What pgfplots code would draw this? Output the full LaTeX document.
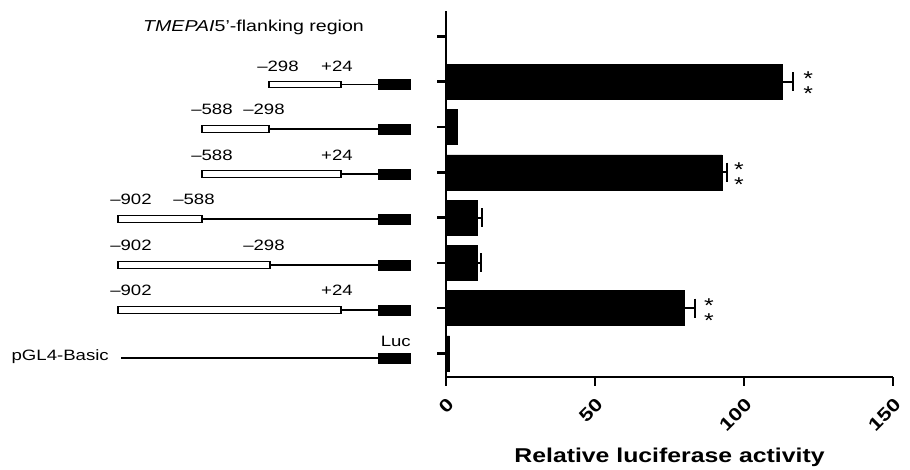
\documentclass[border=0pt]{standalone}
\usepackage{pgfplots}
\pgfplotsset{compat=1.18}
\usepackage{fontspec}
\setmainfont{Liberation Sans}[FakeStretch=1.24]
\begin{document}
\begin{tikzpicture}
\useasboundingbox (0pt,0pt) rectangle (910pt,470pt);
% ---------- schematic of constructs (pixel coordinates, y downward) ----------
\begin{axis}[at={(0pt,0pt)}, anchor=south west, scale only axis,
  width=910pt, height=470pt, xmin=0, xmax=910, ymin=0, ymax=470,
  y dir=reverse, hide axis, clip=false]
% thin lines
\addplot[black, line width=1.5pt] coordinates {(341,84.5) (378,84.5)};
\addplot[black, line width=1.5pt] coordinates {(269,129) (378,129)};
\addplot[black, line width=1.5pt] coordinates {(341,174) (378,174)};
\addplot[black, line width=1.5pt] coordinates {(202,219) (378,219)};
\addplot[black, line width=1.5pt] coordinates {(270,265) (378,265)};
\addplot[black, line width=1.5pt] coordinates {(341,310) (378,310)};
\addplot[black, line width=1.5pt] coordinates {(121,358) (378,358)};
% promoter boxes
\addplot[draw=black, fill=white, line width=1.3pt] coordinates {(269,81.2) (341,81.2) (341,87.8) (269,87.8)} -- cycle;
\addplot[draw=black, fill=white, line width=1.3pt] coordinates {(202,125.7) (269,125.7) (269,132.3) (202,132.3)} -- cycle;
\addplot[draw=black, fill=white, line width=1.3pt] coordinates {(202,170.7) (341,170.7) (341,177.3) (202,177.3)} -- cycle;
\addplot[draw=black, fill=white, line width=1.3pt] coordinates {(118,215.7) (202,215.7) (202,222.3) (118,222.3)} -- cycle;
\addplot[draw=black, fill=white, line width=1.3pt] coordinates {(118,261.7) (270,261.7) (270,268.3) (118,268.3)} -- cycle;
\addplot[draw=black, fill=white, line width=1.3pt] coordinates {(118,306.7) (341,306.7) (341,313.3) (118,313.3)} -- cycle;
% Luc boxes
\addplot[draw=black, fill=black, line width=0.5pt] coordinates {(378,79.5) (410,79.5) (410,89.5) (378,89.5)} -- cycle;
\addplot[draw=black, fill=black, line width=0.5pt] coordinates {(378,124) (410,124) (410,134) (378,134)} -- cycle;
\addplot[draw=black, fill=black, line width=0.5pt] coordinates {(378,169) (410,169) (410,179) (378,179)} -- cycle;
\addplot[draw=black, fill=black, line width=0.5pt] coordinates {(378,214) (410,214) (410,224) (378,224)} -- cycle;
\addplot[draw=black, fill=black, line width=0.5pt] coordinates {(378,260) (410,260) (410,270) (378,270)} -- cycle;
\addplot[draw=black, fill=black, line width=0.5pt] coordinates {(378,305) (410,305) (410,315) (378,315)} -- cycle;
\addplot[draw=black, fill=black, line width=0.5pt] coordinates {(378,353) (410,353) (410,363) (378,363)} -- cycle;
% labels
\begin{scope}[every node/.style={font=\fontsize{15}{15}\selectfont, inner sep=0pt}]
\node at (axis cs:278,66) {–298};
\node at (axis cs:337,66) {+24};
\node at (axis cs:212,109) {–588};
\node at (axis cs:264,109) {–298};
\node at (axis cs:212,155) {–588};
\node at (axis cs:337,155) {+24};
\node at (axis cs:131,199) {–902};
\node at (axis cs:194,199) {–588};
\node at (axis cs:131,245) {–902};
\node at (axis cs:264,245) {–298};
\node at (axis cs:131,290) {–902};
\node at (axis cs:337,290) {+24};
\node[anchor=base east] at (axis cs:109,361) {pGL4-Basic};
\end{scope}
\node[anchor=base east, inner sep=0pt, font=\fontsize{15}{15}\selectfont] at (axis cs:411,347) {Luc};
\node[anchor=base west, inner sep=0pt, font=\fontsize{15.8}{15.8}\selectfont] at (axis cs:143,32) {\itshape TMEPAI\upshape 5'-flanking region};
\end{axis}
% ---------- bar chart ----------
\begin{axis}[at={(446pt,93pt)}, anchor=south west, scale only axis,
  width=447pt, height=366pt,
  xmin=0, xmax=150, ymin=-0.52, ymax=7.56,
  axis lines*=left,
  axis line style={line width=2.6pt, black},
  xtick={0,50,100,150}, ytick={0,1,2,3,4,5,6,7}, yticklabels={},
  tick align=outside, major tick length=9pt,
  tick style={line width=2.6pt, black},
  /pgf/number format/assume math mode=true,
  xticklabel shift=6pt,
  xticklabel style={font=\bfseries\fontsize{18}{18}\selectfont, rotate=45, anchor=north east},
  xlabel={Relative luciferase activity},
  xlabel style={font=\bfseries\fontsize{20}{20}\selectfont, at={(axis description cs:0.5,0)}, anchor=base, yshift=-86pt},
  xbar, bar width=35pt, bar shift=0pt,
  clip=false]
\addplot[fill=black, draw=black,
  error bars/.cd, x dir=plus, x explicit, error mark=|,
  error bar style={line width=2pt, black},
  error mark options={line width=2.4pt, mark size=9.5pt, black}]
  coordinates {(79.9,1) +- (3.7,0) (10.4,2) +- (1.3,0) (10.4,3) +- (1.7,0) (92.6,4) +- (1.7,0) (112.8,6) +- (3.6,0)};
\addplot[fill=black, draw=black] coordinates {(1.2,0) (3.8,5)};
\begin{scope}[every node/.style={font=\fontsize{20}{12.5}\selectfont, inner sep=0pt, anchor=center, align=center, yshift=-4.6pt}]
\node at (axis cs:121.5,6) {*\\*};
\node at (axis cs:98.3,4) {*\\*};
\node at (axis cs:88.2,1) {*\\*};
\end{scope}
\end{axis}
\end{tikzpicture}
\end{document}
